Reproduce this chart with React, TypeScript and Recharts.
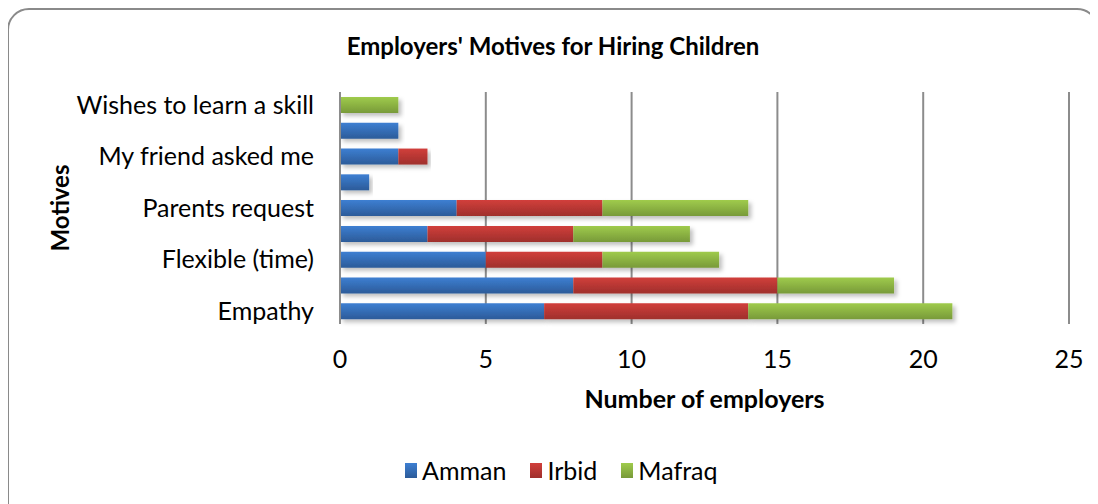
import { BarChart, Bar, XAxis, YAxis, CartesianGrid } from "recharts";

const motives = [
  "Wishes to learn a skill",
  "Cheap labour",
  "My friend asked me",
  "Helps his family",
  "Parents request",
  "Obedient",
  "Flexible (time)",
  "Low wages",
  "Empathy",
];
const amman = [0, 2, 2, 1, 4, 3, 5, 8, 7];
const irbid = [0, 0, 1, 0, 5, 5, 4, 7, 7];
const mafraq = [2, 0, 0, 0, 5, 4, 4, 4, 7];
const xTicks = [0, 5, 10, 15, 20, 25];

const series = [
  { key: "Amman", values: amman, top: "#3d7fd2", bottom: "#2c5b99" },
  { key: "Irbid", values: irbid, top: "#d13f3b", bottom: "#9f2f2c" },
  { key: "Mafraq", values: mafraq, top: "#9fcb4c", bottom: "#789a39" },
];

const data = motives.map((m, i) => ({
  motive: m,
  Amman: amman[i],
  Irbid: irbid[i],
  Mafraq: mafraq[i],
}));

const font = "Lato, 'Open Sans', sans-serif";

export default function App() {
  return (
    <div style={{ position: "relative", width: 1090, height: 496, fontFamily: font }}>
      {/* outer rounded frame */}
      <div
        style={{
          position: "absolute",
          left: -1,
          top: 0,
          width: 1088,
          height: 520,
          border: "2px solid #8a8a8a",
          borderRadius: 22,
          pointerEvents: "none",
        }}
      />
      <div
        style={{
          position: "absolute",
          left: 0,
          width: 1090,
          top: 23,
          textAlign: "center",
          fontWeight: 700,
          fontSize: 24,
          lineHeight: "30px",
          color: "#000",
        }}
      >
        Employers' Motives for Hiring Children
      </div>
      <div
        style={{
          position: "absolute",
          left: 52,
          top: 200,
          transform: "translate(-50%, -50%) rotate(-90deg)",
          fontWeight: 700,
          fontSize: 24,
          lineHeight: "30px",
          whiteSpace: "nowrap",
        }}
      >
        Motives
      </div>
      <div
        style={{
          position: "absolute",
          left: 332,
          width: 729,
          top: 375,
          textAlign: "center",
          fontWeight: 700,
          fontSize: 25,
          lineHeight: "30px",
        }}
      >
        Number of employers
      </div>

      <BarChart
        width={1090}
        height={496}
        data={data}
        layout="vertical"
        margin={{ top: 84, right: 29, bottom: 140, left: 0 }}
        barSize={16}
      >
        <defs>
          {series.map((s) => (
            <linearGradient key={s.key} id={`g-${s.key}`} x1="0" y1="0" x2="0" y2="1">
              <stop offset="0%" stopColor={s.top} />
              <stop offset="100%" stopColor={s.bottom} />
            </linearGradient>
          ))}
          <filter id="shadow" x="-5%" y="-30%" width="115%" height="180%">
            <feDropShadow dx="3" dy="3" stdDeviation="2" floodColor="#000" floodOpacity="0.25" />
          </filter>
        </defs>
        <CartesianGrid horizontal={false} stroke="#8c8c8c" strokeWidth={2} />
        <XAxis
          type="number"
          domain={[0, 25]}
          ticks={xTicks}
          axisLine={false}
          tickLine={false}
          tickSize={0}
          tickMargin={26}
          height={40}
          tick={{ fill: "#000", fontSize: 25, fontFamily: font }}
        />
        <YAxis
          type="category"
          dataKey="motive"
          width={332}
          interval={1}
          axisLine={{ stroke: "#8c8c8c", strokeWidth: 2 }}
          tickLine={false}
          tickSize={0}
          tickMargin={26}
          tick={{ fill: "#000", fontSize: 25, fontFamily: font }}
        />
        {series.map((s) => (
          <Bar
            key={s.key}
            dataKey={s.key}
            stackId="a"
            fill={`url(#g-${s.key})`}
            style={{ filter: "url(#shadow)" }}
            isAnimationActive={false}
          />
        ))}
      </BarChart>

      {/* legend */}
      <div
        style={{
          position: "absolute",
          left: 397,
          top: 447,
          display: "flex",
          alignItems: "center",
          fontSize: 25,
          lineHeight: "30px",
          color: "#000",
        }}
      >
        {series.map((s) => (
          <div key={s.key} style={{ display: "flex", alignItems: "center", marginRight: 24 }}>
            <span
              style={{
                display: "inline-block",
                width: 12,
                height: 15,
                background: `linear-gradient(${s.top}, ${s.bottom})`,
                marginRight: 5,
              }}
            />
            {s.key}
          </div>
        ))}
      </div>
    </div>
  );
}
